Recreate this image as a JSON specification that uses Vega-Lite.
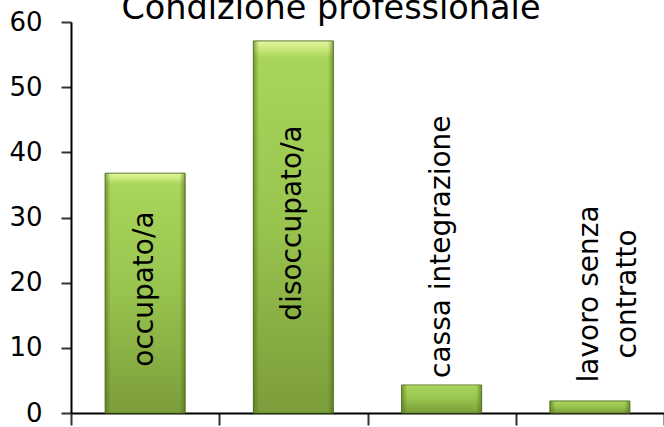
{
  "$schema": "https://vega.github.io/schema/vega-lite/v6.json",
  "width": 593,
  "height": 391,
  "autosize": {"type": "none"},
  "padding": {"left": 71, "top": 22, "right": 0, "bottom": 14},
  "background": "white",
  "title": {
    "text": "Condizione professionale",
    "font": "DejaVu Sans",
    "fontSize": 33.5,
    "fontWeight": "normal",
    "color": "black",
    "anchor": "middle",
    "frame": "bounds",
    "baseline": "alphabetic",
    "offset": -43,
    "dx": -6
  },
  "config": {
    "view": {"stroke": null},
    "axis": {"grid": false, "domainColor": "black", "domainWidth": 2, "tickColor": "#333333", "tickWidth": 2}
  },
  "data": {
    "values": [
      {"categoria": "occupato/a", "label": "occupato/a", "valore": 36.8},
      {"categoria": "disoccupato/a", "label": "disoccupato/a", "valore": 57.1},
      {"categoria": "cassa integrazione", "label": "cassa integrazione", "valore": 4.3},
      {"categoria": "lavoro senza contratto", "label": ["lavoro senza", "contratto"], "valore": 1.85}
    ]
  },
  "encoding": {
    "x": {
      "field": "categoria",
      "type": "nominal",
      "sort": null,
      "scale": {"paddingInner": 0, "paddingOuter": 0},
      "axis": {"title": null, "labels": false, "tickBand": "extent", "tickSize": 12}
    },
    "y": {
      "field": "valore",
      "type": "quantitative",
      "scale": {"domain": [0, 60], "nice": false},
      "axis": {
        "title": null,
        "values": [0, 10, 20, 30, 40, 50, 60],
        "tickSize": 10,
        "labelPadding": 19,
        "labelFont": "DejaVu Sans",
        "labelFontSize": 26,
        "labelColor": "black",
        "labelBaseline": "middle"
      }
    }
  },
  "layer": [
    {
      "mark": {
        "type": "bar",
        "width": {"band": 0.54},
        "stroke": "#5b7a27",
        "strokeWidth": 1,
        "color": {
          "gradient": "linear",
          "x1": 0, "y1": 0, "x2": 0, "y2": 1,
          "stops": [
            {"offset": 0, "color": "#e2f6a0"},
            {"offset": 0.02, "color": "#cdeb80"},
            {"offset": 0.045, "color": "#aad55b"},
            {"offset": 0.5, "color": "#98c34e"},
            {"offset": 1, "color": "#7c9d3b"}
          ]
        }
      }
    },
    {
      "mark": {
        "type": "bar",
        "width": {"band": 0.54},
        "color": {
          "gradient": "linear",
          "x1": 0, "y1": 0, "x2": 1, "y2": 0,
          "stops": [
            {"offset": 0, "color": "rgba(70,100,20,0.55)"},
            {"offset": 0.07, "color": "rgba(70,100,20,0)"},
            {"offset": 0.93, "color": "rgba(70,100,20,0)"},
            {"offset": 1, "color": "rgba(70,100,20,0.55)"}
          ]
        }
      }
    },
    {
      "transform": [
        {"filter": "datum.valore > 20"},
        {"calculate": "datum.valore / 2", "as": "meta"}
      ],
      "mark": {"type": "text", "angle": -90, "align": "center", "baseline": "middle", "font": "DejaVu Sans", "fontSize": 28, "color": "black", "dx": 4},
      "encoding": {
        "y": {"field": "meta", "type": "quantitative"},
        "text": {"field": "label"}
      }
    },
    {
      "transform": [{"filter": "datum.categoria == 'cassa integrazione'"}],
      "mark": {"type": "text", "angle": -90, "align": "left", "baseline": "middle", "font": "DejaVu Sans", "fontSize": 28, "color": "black", "dx": 7},
      "encoding": {
        "text": {"field": "label"}
      }
    },
    {
      "transform": [{"filter": "datum.categoria == 'lavoro senza contratto'"}],
      "mark": {"type": "text", "angle": -90, "align": "center", "baseline": "middle", "font": "DejaVu Sans", "fontSize": 28, "lineHeight": 38, "color": "black", "dx": 107},
      "encoding": {
        "text": {"field": "label"}
      }
    }
  ]
}
